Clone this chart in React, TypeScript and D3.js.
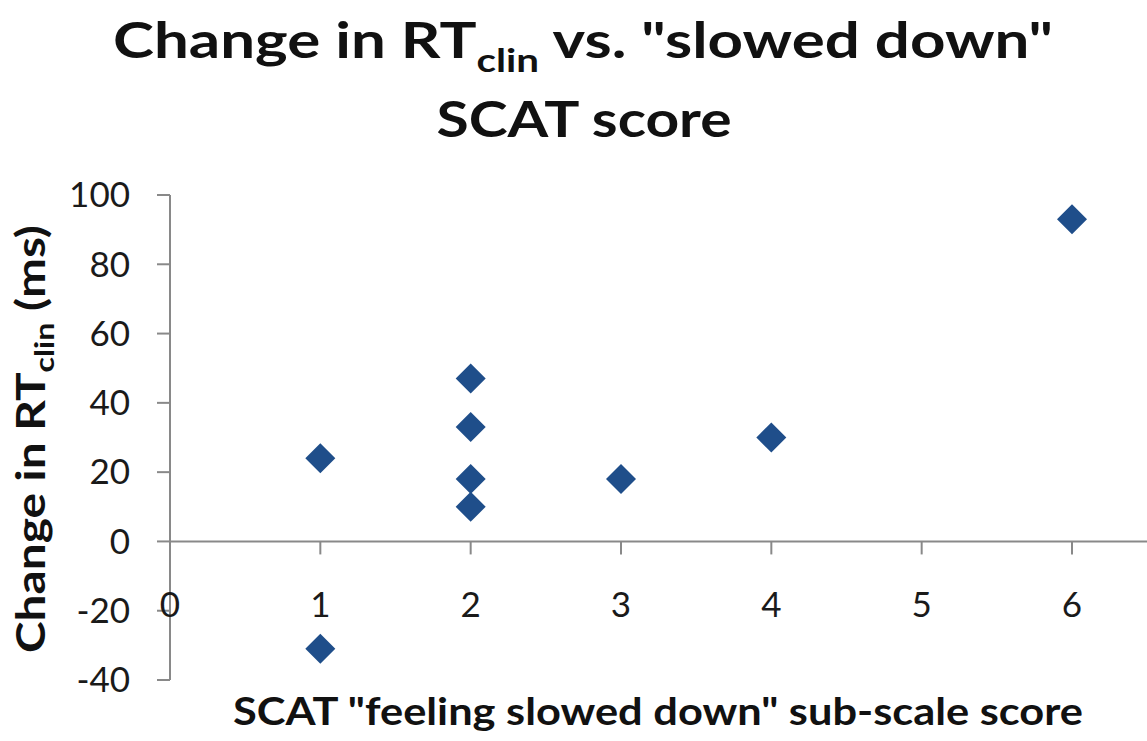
import React from 'react';
import * as d3 from 'd3';

const scores = [1, 1, 2, 2, 2, 2, 3, 4, 6];
const rtChange = [24, -31, 47, 33, 18, 10, 18, 30, 93];
const xTicks = [0, 1, 2, 3, 4, 5, 6];
const yTicks = [-40, -20, 0, 20, 40, 60, 80, 100];

const W = 1147;
const H = 741;
const axisColor = '#898989';
const markColor = '#1f4e8a';
const font = 'Lato, "Open Sans", sans-serif';

const App = () => {
  const x = d3.scaleLinear().domain([0, 6]).range([170, 1072]);
  const y = d3.scaleLinear().domain([-40, 100]).range([680, 195]);
  const diamond = d3.symbol().type(d3.symbolSquare).size(450)();
  const y0 = y(0);

  return (
    <svg width={W} height={H} style={{ position: 'absolute', left: 0, top: 0, background: '#fff' }}>
      {/* title */}
      <g fontFamily={font} fontWeight="bold" fill="#111" textAnchor="middle">
        <text x={583} y={58} fontSize={49} textLength={940} lengthAdjust="spacingAndGlyphs">
          Change in RT<tspan fontSize={32} dy={14}>clin</tspan>
          <tspan dy={-14}> vs. "slowed down"</tspan>
        </text>
        <text x={584} y={137} fontSize={49} textLength={295} lengthAdjust="spacingAndGlyphs">
          SCAT score
        </text>
      </g>

      {/* y axis */}
      <line x1={x(0)} x2={x(0)} y1={y(100)} y2={y(-40)} stroke={axisColor} strokeWidth={2} />
      {yTicks.map(t => (
        <g key={'y' + t}>
          <line x1={x(0) - 13} x2={x(0)} y1={y(t)} y2={y(t)} stroke={axisColor} strokeWidth={2} />
          <text x={130} y={y(t)} dy="0.35em" textAnchor="end" fontFamily={font} fontSize={35} fill="#1a1a1a">
            {t}
          </text>
        </g>
      ))}

      {/* x axis crossing at 0 */}
      <line x1={x(0)} x2={W} y1={y0} y2={y0} stroke={axisColor} strokeWidth={2} />
      {xTicks.map(t => (
        <g key={'x' + t}>
          {t > 0 && <line x1={x(t)} x2={x(t)} y1={y0} y2={y0 + 13} stroke={axisColor} strokeWidth={2} />}
          <text x={x(t)} y={617} textAnchor="middle" fontFamily={font} fontSize={35} fill="#1a1a1a">
            {t}
          </text>
        </g>
      ))}

      {/* points */}
      {scores.map((s, i) => (
        <path key={i} d={diamond as string} fill={markColor}
          transform={`translate(${x(s)},${y(rtChange[i])}) rotate(45)`} />
      ))}

      {/* axis titles */}
      <text x={658} y={725} textAnchor="middle" fontFamily={font} fontWeight="bold" fontSize={38} fill="#111"
        textLength={850} lengthAdjust="spacingAndGlyphs">
        SCAT "feeling slowed down" sub-scale score
      </text>
      <text transform="translate(45,439) rotate(-90)" textAnchor="middle" fontFamily={font} fontWeight="bold"
        fontSize={40} fill="#111" textLength={428} lengthAdjust="spacingAndGlyphs">
        Change in RT<tspan fontSize={27} dy={9}>clin</tspan>
        <tspan dy={-9}> (ms)</tspan>
      </text>
    </svg>
  );
};

export default App;
